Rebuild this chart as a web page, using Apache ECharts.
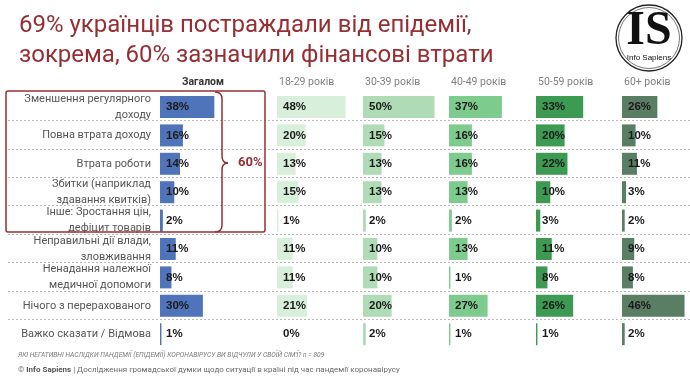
<!DOCTYPE html>
<html><head><meta charset="utf-8">
<script src="https://cdn.jsdelivr.net/npm/echarts@6/dist/echarts.min.js"></script>
<style>html,body{margin:0;padding:0;background:#fff}#c{width:690px;height:378px}</style>
</head><body><div id="c"></div>
<script>
const categories = ['Зменшення регулярного\nдоходу','Повна втрата доходу','Втрата роботи','Збитки (наприклад\nздавання квитків)','Інше: Зростання цін,\nдефіцит товарів','Неправильні дії влади,\nзловживання','Ненадання належної\nмедичної допомоги','Нічого з перерахованого','Важко сказати / Відмова'];
const groups = ['Загалом','18-29 років','30-39 років','40-49 років','50-59 років','60+ років'];
const total = [38,16,14,10,2,11,8,30,1];
const age18_29 = [48,20,13,15,1,11,11,21,0];
const age30_39 = [50,15,13,13,2,10,10,20,2];
const age40_49 = [37,16,16,13,2,13,1,27,1];
const age50_59 = [33,20,22,10,3,11,8,26,1];
const age60plus = [26,10,11,3,2,9,8,46,2];
const seriesData = [total, age18_29, age30_39, age40_49, age50_59, age60plus];
const colors = ['#4f74b9','#d8efdb','#afdcb6','#7dcb8d','#3c9a52','#5a7e63'];
const starts = [160, 277, 363, 449, 536, 622];
const RED = '#962f33';

const chart = echarts.init(document.getElementById('c'));
const grids = [], xAxes = [], yAxes = [], series = [];
const rowTop = 92.8, rowH = 28.4;
groups.forEach((g, i) => {
  grids.push({left: starts[i], top: rowTop, width: 71.5, height: rowH * categories.length});
  xAxes.push({gridIndex: i, type: 'value', min: 0, max: 50, show: false});
  yAxes.push({gridIndex: i, type: 'category', data: categories, inverse: true,
    axisLine: {show: false}, axisTick: {show: false}, splitLine: {show: false},
    axisLabel: {show: i === 0, margin: 9, color: '#555', fontSize: 11, fontFamily: 'Roboto', lineHeight: 16, align: 'right', padding: [0, 0, 4, 0]}});
  series.push({type: 'bar', xAxisIndex: i, yAxisIndex: i, data: seriesData[i], barWidth: 22,
    itemStyle: {color: colors[i]}, silent: true,
    label: {show: true, position: 'insideLeft', distance: 6, formatter: '{c}%', color: '#1a1a1a',
      fontSize: 11.5, fontWeight: 'bold', fontFamily: 'Liberation Sans'}});
});
// separators grid
grids.push({left: 8, top: rowTop + rowH - 0.8, width: 682, height: rowH * 7});
xAxes.push({gridIndex: 6, type: 'value', min: 0, max: 1, show: false});
yAxes.push({gridIndex: 6, type: 'value', min: 0, max: 7, interval: 1, axisLabel: {show: false},
  axisLine: {show: false}, axisTick: {show: false},
  splitLine: {show: true, lineStyle: {color: '#b8b8b8', type: [2, 2], width: 1}}});
series.push({type: 'scatter', xAxisIndex: 6, yAxisIndex: 6, data: [], silent: true});

const graphic = [];
// headers
groups.forEach((g, i) => {
  graphic.push({type: 'text', left: i === 0 ? 182 : starts[i] + 2, top: 77,
    style: {text: g, fill: i === 0 ? '#333' : '#808080', font: (i === 0 ? 'bold ' : '') + '10.5px Roboto'}});
});
// red box
graphic.push({type: 'rect', shape: {x: 6, y: 91, width: 259, height: 141, r: 2},
  style: {fill: 'none', stroke: RED, lineWidth: 1.5}, z: 10});
const braceStyle = {fill: 'none', stroke: RED, lineWidth: 1.5};
graphic.push({type: 'bezierCurve', shape: {x1: 215, y1: 92, cpx1: 222, cpy1: 92, x2: 222, y2: 99}, style: braceStyle, z: 10});
graphic.push({type: 'line', shape: {x1: 222, y1: 99, x2: 222, y2: 156}, style: braceStyle, z: 10});
graphic.push({type: 'bezierCurve', shape: {x1: 222, y1: 156, cpx1: 222, cpy1: 163, x2: 228, y2: 163}, style: braceStyle, z: 10});
graphic.push({type: 'bezierCurve', shape: {x1: 228, y1: 163, cpx1: 222, cpy1: 163, x2: 222, y2: 170}, style: braceStyle, z: 10});
graphic.push({type: 'line', shape: {x1: 222, y1: 170, x2: 222, y2: 225}, style: braceStyle, z: 10});
graphic.push({type: 'bezierCurve', shape: {x1: 222, y1: 225, cpx1: 222, cpy1: 232, x2: 215, y2: 232}, style: braceStyle, z: 10});
graphic.push({type: 'text', left: 238, top: 156, style: {text: '60%', fill: RED, font: 'bold 13px Roboto'}, z: 10});
// logo
graphic.push({type: 'circle', shape: {cx: 649, cy: 38, r: 33}, style: {fill: 'none', stroke: '#222', lineWidth: 1.3}});
graphic.push({type: 'circle', shape: {cx: 649, cy: 38, r: 30.5}, style: {fill: 'none', stroke: '#555', lineWidth: 0.8}});
graphic.push({type: 'text', x: 649, y: 32, style: {text: 'IS', fill: '#111', font: 'bold 48px "Liberation Serif"', textAlign: 'center', textVerticalAlign: 'middle'}});
graphic.push({type: 'text', x: 649, y: 58, style: {text: 'Info Sapiens', fill: '#111', font: '8px "Liberation Sans"', textAlign: 'center', textVerticalAlign: 'middle'}});
// footer
graphic.push({type: 'text', left: 18, top: 352, style: {text: 'ЯКІ НЕГАТИВНІ НАСЛІДКИ ПАНДЕМІЇ (ЕПІДЕМІЇ) КОРОНАВІРУСУ ВИ ВІДЧУЛИ У СВОЇЙ СІМ\'Ї? n = 809', fill: '#7a7a7a', font: 'italic 6.7px Roboto'}});
graphic.push({type: 'text', left: 18, top: 366, style: {text: '{a|© }{b|Info Sapiens}{a| | Дослідження громадської думки щодо ситуації в країні під час пандемії коронавірусу}',
  rich: {a: {fill: '#6a6a6a', font: '8px Roboto'}, b: {fill: '#555', font: 'bold 8px Roboto'}}}});

chart.setOption({
  animation: false,
  title: {text: '69% українців постраждали від епідемії,\nзокрема, 60% зазначили фінансові втрати', left: 14, top: 6,
    textStyle: {fontSize: 24, fontWeight: 'normal', color: RED, fontFamily: 'Roboto', lineHeight: 30}},
  grid: grids, xAxis: xAxes, yAxis: yAxes, series: series, graphic: graphic
});
</script></body></html>
